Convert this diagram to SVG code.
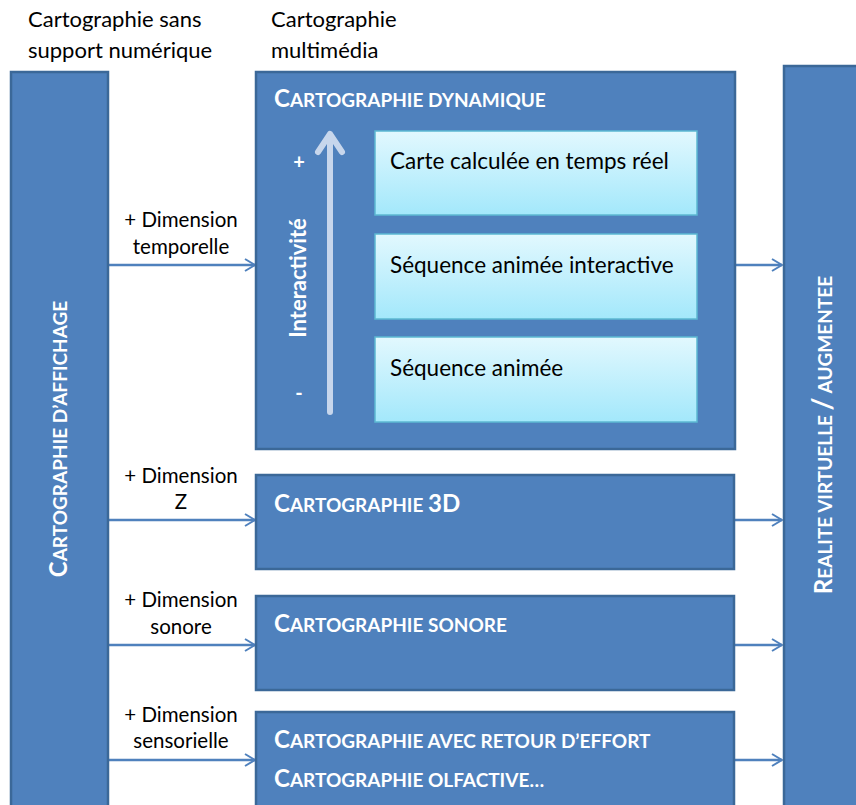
<svg xmlns="http://www.w3.org/2000/svg" width="856" height="805" viewBox="0 0 856 805">
<defs>
<linearGradient id="cyan" x1="0" y1="0" x2="0" y2="1">
<stop offset="0" stop-color="#E2F8FE"/>
<stop offset="1" stop-color="#A3E8FB"/>
</linearGradient>
<marker id="arr" viewBox="0 0 12 14" refX="11" refY="7" markerWidth="12" markerHeight="14" markerUnits="userSpaceOnUse" orient="auto">
<path d="M1,1 L11,7 L1,13" fill="none" stroke="#4F81BD" stroke-width="2"/>
</marker>
</defs>
<style>
.box{fill:#4F81BD;stroke:#3B6898;stroke-width:2.5}
.inner{fill:url(#cyan);stroke:#5CB8D2;stroke-width:1.5}
.t{font-family:Lato,"Liberation Sans",sans-serif;fill:#000}
.lbl{font-size:20.5px;text-anchor:middle}
.top{font-size:22px}
.it{font-size:22.5px}
.w{font-family:Lato,"Liberation Sans",sans-serif;fill:#fff;font-weight:bold}
.big{font-size:24px}
.sm{font-size:19px}
.con{stroke:#4F81BD;stroke-width:2.5;fill:none;marker-end:url(#arr)}
</style>
<g id="header">
<text class="t top" x="28" y="27">Cartographie sans</text>
<text class="t top" x="28" y="58">support numérique</text>
<text class="t top" x="271" y="27">Cartographie</text>
<text class="t top" x="271" y="58">multimédia</text>
</g>
<g id="connectors">
<path class="con" d="M108,265 H255"/>
<path class="con" d="M735,265 H782"/>
<path class="con" d="M108,520 H255"/>
<path class="con" d="M735,520 H782"/>
<path class="con" d="M108,645 H255"/>
<path class="con" d="M735,645 H782"/>
<path class="con" d="M108,760 H255"/>
<path class="con" d="M735,760 H782"/>
</g>
<g id="labels">
<text class="t lbl" x="181" y="227">+ Dimension</text>
<text class="t lbl" x="181" y="254">temporelle</text>
<text class="t lbl" x="181" y="483">+ Dimension</text>
<text class="t lbl" x="181" y="509">Z</text>
<text class="t lbl" x="181" y="607">+ Dimension</text>
<text class="t lbl" x="181" y="634">sonore</text>
<text class="t lbl" x="181" y="722">+ Dimension</text>
<text class="t lbl" x="181" y="748">sensorielle</text>
</g>
<g id="affichage">
<rect class="box" x="11" y="72" width="97" height="740"/>
<text class="w" transform="translate(67,439) rotate(-90)" text-anchor="middle"><tspan class="big">C</tspan><tspan class="sm">ARTOGRAPHIE D’AFFICHAGE</tspan></text>
</g>
<g id="realite">
<rect class="box" x="784" y="66" width="80" height="746"/>
<text class="w" transform="translate(832,435) rotate(-90)" text-anchor="middle"><tspan class="big">R</tspan><tspan class="sm">EALITE VIRTUELLE </tspan><tspan font-size="28">/</tspan><tspan class="sm"> AUGMENTEE</tspan></text>
</g>
<g id="dynamique">
<rect class="box" x="256" y="72" width="479" height="377"/>
<text class="w" x="274" y="107"><tspan class="big">C</tspan><tspan class="sm">ARTOGRAPHIE DYNAMIQUE</tspan></text>
</g>
<g id="interactivite">
<path d="M330,412 V134 M318,152 L330,134 L342,152" stroke="#C7D6EC" stroke-width="6" fill="none" stroke-linecap="round" stroke-linejoin="round"/>
<text class="w" x="299" y="169" font-size="20" text-anchor="middle">+</text>
<text class="w" x="299" y="400" font-size="20" text-anchor="middle">-</text>
<text class="w" transform="translate(306,278) rotate(-90)" text-anchor="middle" font-size="22">Interactivité</text>
</g>
<g id="temps-reel">
<rect class="inner" x="375" y="131" width="322" height="84"/>
<text class="t it" x="390" y="169">Carte calculée en temps réel</text>
</g>
<g id="seq-interactive">
<rect class="inner" x="375" y="234" width="322" height="85"/>
<text class="t it" x="390" y="273">Séquence animée interactive</text>
</g>
<g id="seq-animee">
<rect class="inner" x="375" y="337" width="322" height="85"/>
<text class="t it" x="390" y="376">Séquence animée</text>
</g>
<g id="carto3d">
<rect class="box" x="256" y="475" width="478" height="94"/>
<text class="w" x="274" y="512"><tspan class="big">C</tspan><tspan class="sm">ARTOGRAPHIE </tspan><tspan class="big">3D</tspan></text>
</g>
<g id="sonore">
<rect class="box" x="256" y="596" width="478" height="94"/>
<text class="w" x="274" y="632"><tspan class="big">C</tspan><tspan class="sm">ARTOGRAPHIE SONORE</tspan></text>
</g>
<g id="sensorielle">
<rect class="box" x="256" y="712" width="478" height="100"/>
<text class="w" x="274" y="748"><tspan class="big">C</tspan><tspan class="sm">ARTOGRAPHIE AVEC RETOUR D’EFFORT</tspan></text>
<text class="w" x="274" y="787"><tspan class="big">C</tspan><tspan class="sm">ARTOGRAPHIE OLFACTIVE…</tspan></text>
</g>
</svg>
